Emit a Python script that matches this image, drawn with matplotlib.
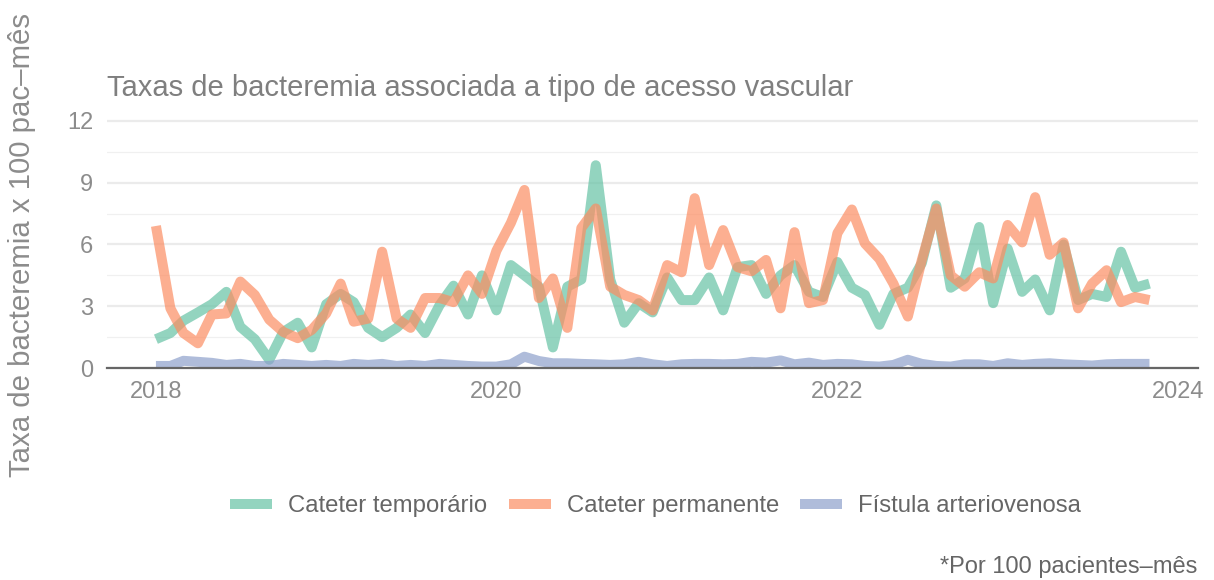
import matplotlib
matplotlib.use("Agg")
import matplotlib.pyplot as plt
import matplotlib.dates as mdates
from matplotlib.lines import Line2D
import pandas as pd

plt.rcParams['font.family'] = ['Liberation Sans', 'DejaVu Sans']

# Monthly rates per 100 patient-months, Jan 2018 - Nov 2023
months = pd.date_range('2018-01-01', periods=71, freq='MS')

temporario = [1.4, 1.7, 2.3, 2.7, 3.1, 3.7, 2.0, 1.4, 0.4, 1.75, 2.2, 1.0,
              3.1, 3.6, 3.2, 1.95, 1.5, 1.95, 2.6, 1.7, 3.05, 4.0, 2.6, 4.5,
              2.8, 5.0, 4.5, 3.95, 1.0, 3.95, 4.3, 9.85, 4.3, 2.2, 3.15, 2.7,
              4.4, 3.3, 3.3, 4.4, 2.8, 4.9, 5.0, 3.6, 4.5, 5.0, 3.7, 3.45,
              5.15, 3.9, 3.55, 2.1, 3.6, 3.9, 5.1, 7.9, 3.9, 4.35, 6.85, 3.15,
              5.8, 3.7, 4.3, 2.8, 6.0, 3.3, 3.6, 3.45, 5.65, 3.9, 4.1]

permanente = [6.9, 2.9, 1.7, 1.2, 2.6, 2.65, 4.2, 3.55, 2.35, 1.75, 1.45, 1.85,
              2.65, 4.1, 2.25, 2.4, 5.65, 2.4, 1.95, 3.4, 3.4, 3.2, 4.5, 3.6,
              5.7, 7.05, 8.65, 3.4, 4.35, 1.95, 6.8, 7.75, 3.95, 3.55, 3.3, 2.8,
              5.0, 4.65, 8.25, 5.0, 6.7, 4.9, 4.7, 5.25, 2.9, 6.6, 3.15, 3.3,
              6.55, 7.7, 6.05, 5.3, 4.1, 2.5, 5.25, 7.75, 4.5, 3.95, 4.65, 4.35,
              6.95, 6.1, 8.3, 5.5, 6.1, 2.9, 4.1, 4.75, 3.2, 3.45, 3.3]

fistula = [0.1, 0.1, 0.35, 0.3, 0.25, 0.15, 0.2, 0.1, 0.1, 0.2, 0.15, 0.1,
           0.15, 0.1, 0.2, 0.15, 0.2, 0.1, 0.15, 0.1, 0.2, 0.15, 0.1, 0.07,
           0.07, 0.18, 0.55, 0.34, 0.23, 0.23, 0.2, 0.18, 0.15, 0.18, 0.3, 0.18,
           0.1, 0.18, 0.2, 0.2, 0.18, 0.2, 0.3, 0.26, 0.37, 0.18, 0.26, 0.15,
           0.2, 0.18, 0.1, 0.07, 0.15, 0.4, 0.2, 0.1, 0.07, 0.18, 0.18, 0.1,
           0.23, 0.15, 0.2, 0.23, 0.18, 0.15, 0.12, 0.18, 0.2, 0.2, 0.2]

series_names = ['Cateter temporário', 'Cateter permanente', 'Fístula arteriovenosa']
colors = ['#66c2a5', '#fc8d62', '#8da0cb']
year_ticks = ['2018', '2020', '2022', '2024']

fig = plt.figure(figsize=(12.14, 5.8), dpi=100)
ax = fig.add_axes([0.0881, 0.3655, 0.8987, 0.4259 * 12.15 / 12])

for vals, c in zip([temporario, permanente, fistula], colors):
    ax.plot(months, vals, color=c, lw=7.2, alpha=0.7,
            solid_capstyle='butt', solid_joinstyle='round')

ax.set_ylim(0, 12.15)
start = mdates.date2num(pd.Timestamp('2018-01-01'))
end = mdates.date2num(pd.Timestamp('2024-01-01'))
ax.set_xlim(start - 105, end + 43)

ax.set_yticks([0, 3, 6, 9, 12])
ax.set_yticks([1.5, 4.5, 7.5, 10.5], minor=True)
ax.set_xticks([mdates.date2num(pd.Timestamp(y + '-01-01')) for y in year_ticks])
ax.set_xticklabels(year_ticks)
ax.xaxis.set_minor_locator(plt.NullLocator())

ax.grid(axis='y', which='major', color='#ebebeb', lw=1.6)
ax.grid(axis='y', which='minor', color='#f0f0f0', lw=0.9)
ax.grid(axis='x', visible=False)
ax.set_axisbelow(True)

for s in ['top', 'left', 'right']:
    ax.spines[s].set_visible(False)
ax.spines['bottom'].set_color('#666666')
ax.spines['bottom'].set_linewidth(1.6)
ax.spines['bottom'].set_zorder(5)

ax.tick_params(axis='both', which='both', length=0, labelsize=17, labelcolor='#8c8c8c')
ax.tick_params(axis='y', pad=10)
ax.tick_params(axis='x', pad=9)

ax.set_title('Taxas de bacteremia associada a tipo de acesso vascular',
             loc='left', fontsize=21, color='#7f7f7f', pad=16)
fig.text(0.018, 0.578, 'Taxa de bacteremia x 100 pac–mês', rotation=90,
         ha='center', va='center', fontsize=21.2, color='#8c8c8c')

handles = [Line2D([0], [0], color=c, lw=7.2, alpha=0.7, solid_capstyle='butt')
           for c in colors]
fig.legend(handles, series_names, loc='center', bbox_to_anchor=(0.540, 0.127),
           ncol=3, frameon=False, fontsize=17.2, handlelength=1.76,
           handletextpad=0.67, columnspacing=0.88, labelcolor='#666666')

fig.text(0.986, 0.0224, '*Por 100 pacientes–mês', ha='right', va='center',
         fontsize=17, color='#666666')

fig.savefig('out.png', dpi=100)
